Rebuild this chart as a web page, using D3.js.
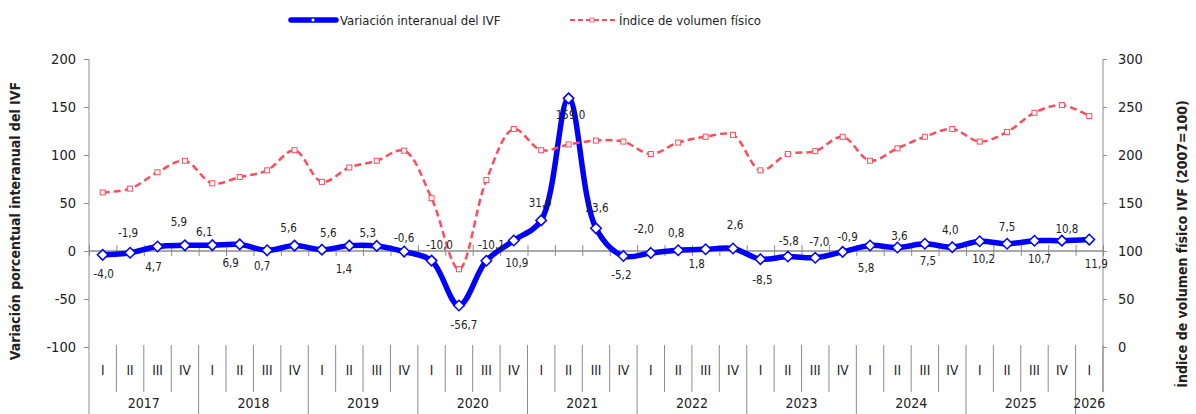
<!DOCTYPE html>
<html>
<head>
<meta charset="utf-8">
<script src="https://cdn.jsdelivr.net/npm/d3@7"></script>
<style>
  body { margin: 0; background: #fff; }
  svg text { font-family: "DejaVu Sans Condensed", "Liberation Sans", sans-serif; fill: #222; }
</style>
</head>
<body>
<div id="chart"></div>
<script>
// periods (year + quarter)
var periods = [
  "2017 I","2017 II","2017 III","2017 IV",
  "2018 I","2018 II","2018 III","2018 IV",
  "2019 I","2019 II","2019 III","2019 IV",
  "2020 I","2020 II","2020 III","2020 IV",
  "2021 I","2021 II","2021 III","2021 IV",
  "2022 I","2022 II","2022 III","2022 IV",
  "2023 I","2023 II","2023 III","2023 IV",
  "2024 I","2024 II","2024 III","2024 IV",
  "2025 I","2025 II","2025 III","2025 IV",
  "2026 I"
];

// variación interanual del IVF (%)
var variacion = [
  -4.0, -1.9, 4.7, 5.9,
  6.1, 6.9, 0.7, 5.6,
  1.4, 5.6, 5.3, -0.6,
  -10.0, -56.7, -10.1, 10.9,
  31.9, 159.0, 23.6, -5.2,
  -2.0, 0.8, 1.8, 2.6,
  -8.5, -5.8, -7.0, -0.9,
  5.8, 3.6, 7.5, 4.0,
  10.2, 7.5, 10.7, 10.8,
  11.9
];

// índice de volumen físico (2007=100)
var indice = [
  161, 165, 182, 194,
  170.5, 177, 184, 205,
  172, 187, 194, 204.5,
  155, 81, 174, 227,
  205, 211, 215, 214,
  201, 213, 219, 221,
  184, 201, 204, 219,
  194, 207, 219, 227,
  214, 224, 244, 252,
  240.5
];

var leftTicks = [-100, -50, 0, 50, 100, 150, 200];
var rightTicks = [0, 50, 100, 150, 200, 250, 300];

// label offsets from each blue point (dx, dy), as placed in the original
var labelOffsets = [
  [1,19],[-2,-20],[-4,20],[-6,-23],
  [-8,-13],[-9,19],[-5,16],[-6,-18],
  [22,19],[-21,-13],[-9,-13],[0,-14],
  [8,-16],[5,20],[5,-16],[3,22],
  [-1,-17],[2,17],[1,-20],[-2,19],
  [-7,-24],[-2,-17],[-9,15],[2,-24],
  [2,21],[1,-16],[4,-16],[5,-15],
  [-4,23],[2,-12],[3,17],[-2,-17],
  [4,18],[0,-17],[5,18],[5,-12],
  [7,24]
];

var width = 1196, height = 414;
var pLeft = 89, pRight = 1103, pTop = 59, pBottom = 347;

var svg = d3.select("#chart").append("svg")
  .attr("width", width)
  .attr("height", height);

var x = d3.scaleBand()
  .domain(d3.range(periods.length))
  .range([pLeft, pRight]);
var xEdge = d3.scaleLinear()
  .domain([0, periods.length])
  .range([pLeft, pRight]);
var yL = d3.scaleLinear().domain([-100, 200]).range([pBottom, pTop]);
var yR = d3.scaleLinear().domain([0, 300]).range([pBottom, pTop]);

// spanish style numbers, plain hyphen for negatives
var loc = d3.formatLocale({decimal: ",", thousands: ".", grouping: [3], currency: ["", ""], minus: "-"});
var fmt = loc.format(".1f");
var fmtInt = loc.format("d");
var grey = "#8c8c8c";

// left axis
var gL = svg.append("g")
  .attr("transform", "translate(" + pLeft + ",0)")
  .call(d3.axisLeft(yL).tickValues(leftTicks).tickFormat(fmtInt).tickSize(5).tickPadding(8));
gL.selectAll("text").style("font-size", "14.5px");

// right axis
var gR = svg.append("g")
  .attr("transform", "translate(" + pRight + ",0)")
  .call(d3.axisRight(yR).tickValues(rightTicks).tickFormat(fmtInt).tickSize(4).tickPadding(11));
gR.selectAll("text").style("font-size", "14.5px");

[gL, gR].forEach(function(g) {
  g.select(".domain").remove();
  g.selectAll("line").attr("stroke", grey);
});

svg.append("line")
  .attr("x1", pLeft).attr("x2", pLeft)
  .attr("y1", pTop).attr("y2", height)
  .attr("stroke", grey);
svg.append("line")
  .attr("x1", pRight).attr("x2", pRight)
  .attr("y1", pTop).attr("y2", 392)
  .attr("stroke", grey);

// zero line with category ticks
var gX = svg.append("g")
  .attr("transform", "translate(0," + (yL(0) - 6) + ")")
  .call(d3.axisBottom(xEdge).tickValues(d3.range(periods.length + 1)).tickSize(11).tickFormat(""));
gX.select(".domain").remove();
gX.selectAll("line").attr("stroke", grey);
svg.append("line")
  .attr("x1", pLeft).attr("x2", pRight)
  .attr("y1", yL(0)).attr("y2", yL(0))
  .attr("stroke", grey).attr("stroke-width", 1.5);

// category label area
var bands = d3.range(1, periods.length + 1);
svg.selectAll(".sep").data(bands).enter().append("line")
  .attr("x1", function(d) { return xEdge(d); })
  .attr("x2", function(d) { return xEdge(d); })
  .attr("y1", 345)
  .attr("y2", function(d) { return (d % 4 === 0 && d < periods.length) ? height : 392; })
  .attr("stroke", grey);

svg.selectAll(".qlab").data(periods).enter().append("text")
  .attr("x", function(d, i) { return x(i) + x.bandwidth() / 2; })
  .attr("y", 375)
  .attr("text-anchor", "middle")
  .style("font-size", "13.5px")
  .text(function(d) { return d.split(" ")[1]; });

var years = d3.groups(periods.map(function(p, i) { return {y: p.split(" ")[0], i: i}; }), function(d) { return d.y; });
svg.selectAll(".ylab").data(years).enter().append("text")
  .attr("x", function(d) {
    var a = d[1][0].i, b = d[1][d[1].length - 1].i;
    return (x(a) + x(b) + x.bandwidth()) / 2;
  })
  .attr("y", 408)
  .attr("text-anchor", "middle")
  .style("font-size", "14px")
  .text(function(d) { return d[0]; });

// axis titles
svg.append("text")
  .attr("transform", "translate(20,221) rotate(-90)")
  .attr("text-anchor", "middle")
  .style("font-size", "14px").style("font-weight", "bold")
  .text("Variación porcentual interanual del IVF");
svg.append("text")
  .attr("transform", "translate(1187,244) rotate(-90)")
  .attr("text-anchor", "middle")
  .style("font-size", "14px").style("font-weight", "bold")
  .text("Índice de volumen físico IVF (2007=100)");

var cx = function(i) { return x(i) + x.bandwidth() / 2; };
var blue = "#0000ff", red = "#ff4b5c";

// blue series
var lineL = d3.line()
  .x(function(d, i) { return cx(i); })
  .y(function(d) { return yL(d); })
  .curve(d3.curveCatmullRom);
svg.append("path")
  .datum(variacion)
  .attr("d", lineL)
  .attr("fill", "none")
  .attr("stroke", blue)
  .attr("stroke-width", 5.5)
  .attr("stroke-linejoin", "round");
svg.selectAll(".dia").data(variacion).enter().append("path")
  .attr("d", d3.symbol().type(d3.symbolDiamond2).size(70))
  .attr("transform", function(d, i) { return "translate(" + cx(i) + "," + yL(d) + ")"; })
  .attr("fill", "#fff").attr("stroke", blue).attr("stroke-width", 1.5);

// red series (secondary axis)
var lineR = d3.line()
  .x(function(d, i) { return cx(i); })
  .y(function(d) { return yR(d); })
  .curve(d3.curveCatmullRom);
svg.append("path")
  .datum(indice)
  .attr("d", lineR)
  .attr("fill", "none")
  .attr("stroke", red)
  .attr("stroke-width", 2.5)
  .attr("stroke-dasharray", "7,4");
svg.selectAll(".sq").data(indice).enter().append("rect")
  .attr("x", function(d, i) { return cx(i) - 2.5; })
  .attr("y", function(d) { return yR(d) - 2.5; })
  .attr("width", 5).attr("height", 5)
  .attr("fill", "#fff").attr("stroke", red).attr("stroke-width", 1);

// data labels
svg.selectAll(".dlab").data(variacion).enter().append("text")
  .attr("x", function(d, i) { return cx(i) + labelOffsets[i][0]; })
  .attr("y", function(d, i) { return yL(d) + labelOffsets[i][1]; })
  .attr("dy", "0.35em")
  .attr("text-anchor", "middle")
  .style("font-size", "11.5px")
  .text(fmt);

// legend
var lg = svg.append("g");
lg.append("line").attr("x1", 291).attr("x2", 336).attr("y1", 20).attr("y2", 20)
  .attr("stroke", blue).attr("stroke-width", 5.5).attr("stroke-linecap", "round");
lg.append("path").attr("d", d3.symbol().type(d3.symbolDiamond2).size(14))
  .attr("transform", "translate(313,20)")
  .attr("fill", "#fff").attr("stroke", blue).attr("stroke-width", 0.8);
lg.append("text").attr("x", 340).attr("y", 20).attr("dy", "0.35em")
  .style("font-size", "13px").text("Variación interanual del IVF");
lg.append("line").attr("x1", 570).attr("x2", 615).attr("y1", 20).attr("y2", 20)
  .attr("stroke", red).attr("stroke-width", 2).attr("stroke-dasharray", "5,3");
lg.append("rect").attr("x", 590).attr("y", 18).attr("width", 4).attr("height", 4)
  .attr("fill", "#fff").attr("stroke", red).attr("stroke-width", 0.8);
lg.append("text").attr("x", 619).attr("y", 20).attr("dy", "0.35em")
  .style("font-size", "13px").text("Índice de volumen físico");
</script>
</body>
</html>
